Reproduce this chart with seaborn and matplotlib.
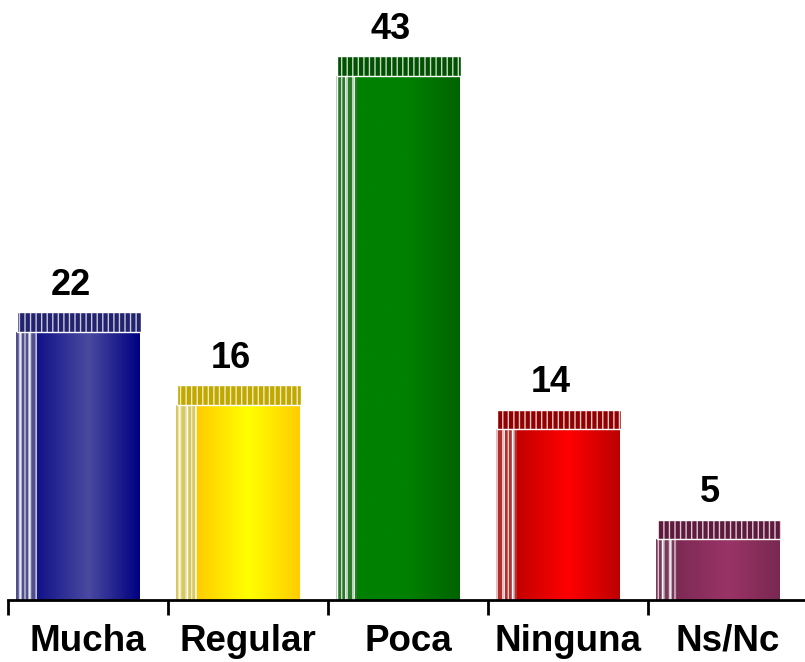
import numpy as np
import pandas as pd
import matplotlib
matplotlib.use("Agg")
import matplotlib.pyplot as plt
import seaborn as sns
from matplotlib.colors import LinearSegmentedColormap

# Data
categories = ["Mucha", "Regular", "Poca", "Ninguna", "Ns/Nc"]
values = [22, 16, 43, 14, 5]

# Colours: (left edge, highlight, right edge) of each bar face, plus tones for the striped 3d parts
face_left = ["#12128a", "#ffcc00", "#008000", "#c40000", "#7d2a55"]
face_mid = ["#4a4aa0", "#ffff00", "#008000", "#ff0000", "#9a3466"]
face_right = ["#000080", "#ffcc00", "#006400", "#bb0000", "#7a2852"]
cap_dark = ["#22226e", "#c0a800", "#005200", "#900000", "#5e1a3c"]
side_col = ["#50508c", "#d8c860", "#2a7a2a", "#b03030", "#7a3a5a"]
stripe_light = ["#c8c8dc", "#f0ecc0", "#c8d8c8", "#f0c8c8", "#dcc8d2"]

CAP_DEPTH = 1.6   # depth of the 3d top, in value units
SIDE_W = 0.13

sns.set_theme(style="white")
plt.rcParams["font.family"] = ["Liberation Sans", "DejaVu Sans"]
plt.rcParams["hatch.linewidth"] = 1.0

df = pd.DataFrame({"cat": categories, "val": values})

fig = plt.figure(figsize=(8.05, 6.62), dpi=100)
ax = fig.add_axes([8 / 805, 62 / 662, 800 / 805, 600 / 662])

sns.barplot(data=df, x="cat", y="val", order=categories, width=0.64,
            color="white", saturation=1, ax=ax, zorder=2)

x = np.arange(len(categories))

# gradient on each face, clipped to the bar drawn by seaborn
for i, patch in enumerate(ax.patches[:len(categories)]):
    cmap = LinearSegmentedColormap.from_list(
        f"g{i}", [(0, face_left[i]), (0.5, face_mid[i]), (1, face_right[i])])
    x0, w, h = patch.get_x(), patch.get_width(), patch.get_height()
    grad = np.linspace(0, 1, 256).reshape(1, -1)
    im = ax.imshow(grad, cmap=cmap, aspect="auto", extent=(x0, x0 + w, 0, h),
                   zorder=2.5, interpolation="bilinear")
    im.set_clip_path(patch)
    patch.set_facecolor("none")
    patch.set_edgecolor("none")

# striped left side and top cap (fake 3d)
side_x = x - 0.32 - SIDE_W / 2
cap_x = x - 0.057
for i in range(len(categories)):
    ax.bar(side_x[i], values[i], width=SIDE_W, color=side_col[i],
           edgecolor=stripe_light[i], hatch="|||", linewidth=0, zorder=3)
    ax.bar(side_x[i], values[i], width=SIDE_W, color="none",
           edgecolor="white", hatch="||", linewidth=0, zorder=3.1)
    ax.bar(cap_x[i], CAP_DEPTH, bottom=values[i], width=0.775, color=cap_dark[i],
           edgecolor=stripe_light[i], hatch="|||", linewidth=0, zorder=3)
    ax.bar(cap_x[i], CAP_DEPTH, bottom=values[i], width=0.775, color="none",
           edgecolor="white", linewidth=1, zorder=3.1)
    ax.text(x[i] - 0.11, values[i] + CAP_DEPTH + 2.2, str(values[i]),
            ha="center", va="center", fontsize=26, fontweight="bold", color="black")

ax.set_xlim(-0.5, len(categories) - 0.5)
ax.set_ylim(0, 49.2)
ax.set_xlabel("")
ax.set_ylabel("")
ax.set_yticks([])
for side in ["top", "right", "left"]:
    ax.spines[side].set_visible(False)
ax.spines["bottom"].set_linewidth(2)
ax.spines["bottom"].set_color("black")
ax.spines["bottom"].set_zorder(5)

ax.set_xticks(x)
ax.set_xticklabels(categories, fontsize=26.5, fontweight="bold", color="black")
ax.set_xticks(np.arange(len(categories) + 1) - 0.5, minor=True)
ax.tick_params(axis="x", which="major", length=0, pad=17)
ax.tick_params(axis="x", which="minor", length=11, width=2, color="black",
               direction="out", bottom=True)

fig.savefig("out.png", dpi=100)
plt.close(fig)
